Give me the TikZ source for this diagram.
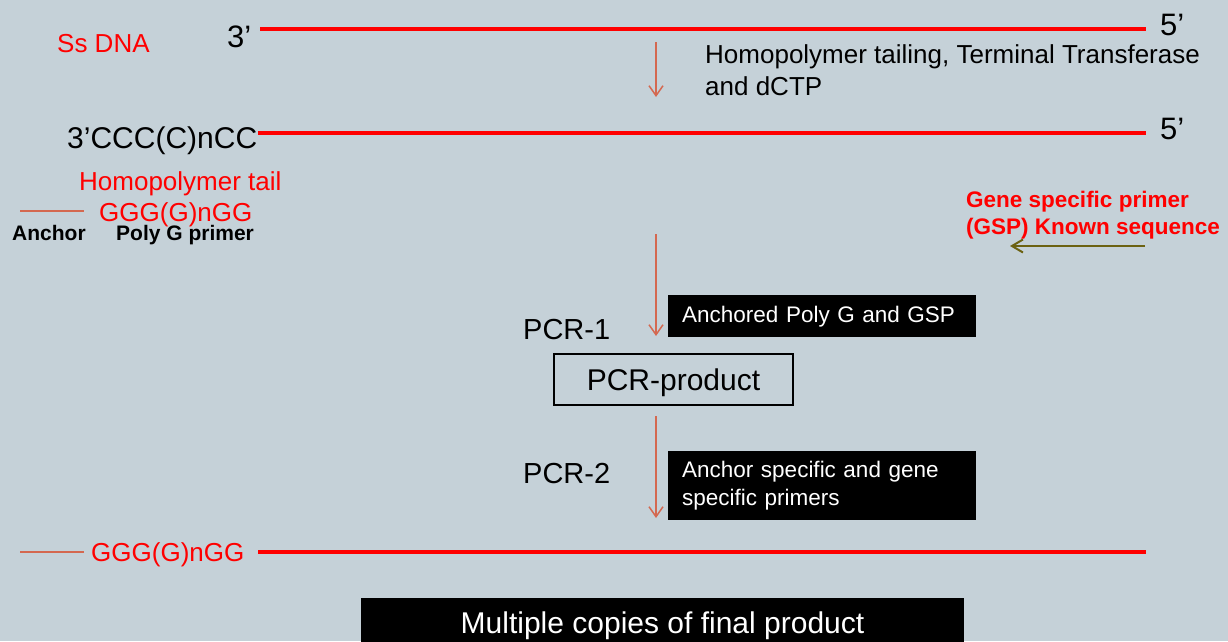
\documentclass[tikz,border=0pt]{standalone}
\usepackage{fontspec}
\setmainfont{Liberation Sans}
\usetikzlibrary{arrows.meta}

\definecolor{bgcol}{RGB}{197,209,216}
\definecolor{dnared}{RGB}{255,0,0}
\definecolor{coral}{RGB}{212,104,80}
\definecolor{olive}{RGB}{108,98,18}
\newcommand{\pxfont}[2]{\fontsize{#1}{#2}\selectfont}

\begin{document}
\begin{tikzpicture}[x=1pt,y=-1pt,
  every node/.style={inner sep=0pt},
  strand/.style={draw=dnared,line width=4.5pt},
  tail/.style={draw=coral,line width=2.5pt},
  flow/.style={draw=coral,line width=1.5pt,-{Straight Barb[length=10pt,width=14pt]}},
  gsp/.style={draw=olive,line width=2pt,-{Straight Barb[length=11pt,width=13pt]}},
  blackbox/.style={fill=black,text=white,inner xsep=14pt,text width=280pt,align=left,anchor=north west,font=\pxfont{22.5}{27.5}}]
  \fill[bgcol] (0,0) rectangle (1228,641);
  \useasboundingbox (0,0) rectangle (1228,641);

  % single strand
  \node[text=dnared,font=\pxfont{26}{31},anchor=base west] (ssdna) at (57,52) {Ss DNA};
  \node[font=\pxfont{31}{37},anchor=base west] (top3) at (227,47) {3’};
  \node[font=\pxfont{31}{37},anchor=base west] (top5) at (1160,35) {5’};
  \coordinate (s1a) at (260,29);
  \coordinate (s1b) at (1146,29);
  \draw[strand] (s1a)--(s1b);

  % tailing step (base = last line)
  \coordinate (a1s) at (656,42);
  \coordinate (a1e) at (656,97);
  \draw[flow] (a1s)--(a1e);
  \node[font=\pxfont{26}{32},anchor=base west,align=left] (tailing) at (705,95) {Homopolymer tailing, Terminal Transferase\\and dCTP};

  % tailed strand
  \node[font=\pxfont{30}{36},anchor=base west] (tail3) at (67,148) {3’CCC(C)nCC};
  \node[font=\pxfont{31}{37},anchor=base west] (tail5) at (1160,139) {5’};
  \coordinate (s2a) at (258,133);
  \coordinate (s2b) at (1146,133);
  \draw[strand] (s2a)--(s2b);

  % primers
  \node[text=dnared,font=\pxfont{26}{31},anchor=base west] (homtail) at (79,190) {Homopolymer tail};
  \node[text=dnared,font=\pxfont{26}{31},anchor=base west] (polyg) at (99,221) {GGG(G)nGG};
  \coordinate (anc1a) at (20,211);
  \coordinate (anc1b) at (84,211);
  \draw[tail] (anc1a)--(anc1b);
  \node[font=\bfseries\pxfont{21}{25},anchor=base west] (anclab) at (12,240) {Anchor};
  \node[font=\bfseries\pxfont{21}{25},anchor=base west] (polyglab) at (116,240) {Poly G primer};
  \node[text=dnared,font=\bfseries\pxfont{22.5}{27},anchor=base west,align=left] (gsplab) at (966,234) {Gene specific primer\\(GSP) Known sequence};
  \coordinate (g1) at (1145,246);
  \coordinate (g2) at (1010,246);
  \draw[gsp] (g1)--(g2);

  % PCR-1
  \coordinate (a2s) at (656,234);
  \coordinate (a2e) at (656,336);
  \draw[flow] (a2s)--(a2e);
  \node[font=\pxfont{29}{35},anchor=base west] (pcr1) at (523,339) {PCR-1};
  \node[blackbox,minimum height=42pt] (box1) at (668,295) {Anchored Poly G and GSP};
  \node[draw,line width=1.5pt,minimum width=239pt,minimum height=51pt,font=\pxfont{30}{36},text height=21.5pt,text depth=0pt] (product) at (673.5,379.5) {PCR-product};

  % PCR-2
  \coordinate (a3s) at (656,416);
  \coordinate (a3e) at (656,518);
  \draw[flow] (a3s)--(a3e);
  \node[font=\pxfont{29}{35},anchor=base west] (pcr2) at (523,483) {PCR-2};
  \node[blackbox,minimum height=69pt] (box2) at (668,451) {Anchor specific and gene\\specific primers};

  % final product
  \coordinate (anc2a) at (20,552);
  \coordinate (anc2b) at (84,552);
  \draw[tail] (anc2a)--(anc2b);
  \node[text=dnared,font=\pxfont{26}{31},anchor=base west] (finalg) at (91,561) {GGG(G)nGG};
  \coordinate (s3a) at (258,552);
  \coordinate (s3b) at (1146,552);
  \draw[strand] (s3a)--(s3b);
  \node[fill=black,text=white,minimum width=603pt,minimum height=56pt,font=\pxfont{30}{36}] (final) at (662.5,626) {Multiple copies of final product};
\end{tikzpicture}
\end{document}
